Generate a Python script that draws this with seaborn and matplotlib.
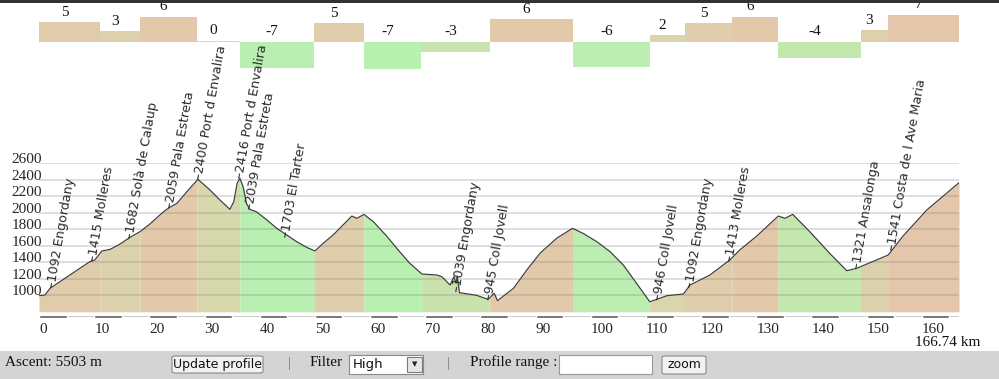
import numpy as np
import pandas as pd
import matplotlib
matplotlib.use("Agg")
import matplotlib.pyplot as plt
from matplotlib.patches import Rectangle, FancyBboxPatch
import seaborn as sns

# ---------------- data ----------------
profile_km = [0.0, 1.1, 2.0, 3.8, 5.6, 7.4, 9.2, 10.1, 11.4, 12.9, 14.7, 16.5, 18.3, 20.1,
              21.9, 22.8, 23.7, 25.0, 26.8, 28.8, 31.0, 32.8, 34.6, 35.3, 35.9, 36.4, 37.0,
              37.6, 38.2, 39.4, 41.3, 43.1, 44.9, 46.7, 48.5, 50.0, 51.5, 53.3, 55.1, 56.7,
              57.6, 58.9, 60.6, 63.0, 65.1, 67.2, 69.4, 72.1, 73.0, 74.5, 75.2, 75.6, 75.8,
              76.2, 79.3, 81.4, 82.5, 83.1, 86.0, 88.4, 90.8, 93.8, 96.7, 98.6, 101.1, 103.5,
              105.9, 108.3, 110.7, 112.5, 113.8, 116.8, 118.0, 121.6, 125.2, 127.0, 130.1,
              134.0, 135.2, 136.6, 139.7, 143.3, 146.4, 148.2, 150.6, 153.9, 156.6, 160.9,
              166.6, 166.74]
profile_elev = [995, 1004, 1085, 1165, 1246, 1327, 1407, 1428, 1537, 1557, 1622, 1703, 1771, 1864,
                1973, 2025, 2067, 2115, 2256, 2406, 2276, 2155, 2042, 2135, 2357, 2418, 2316,
                2115, 2042, 2013, 1913, 1812, 1731, 1650, 1582, 1537, 1630, 1731, 1852, 1961,
                1933, 1981, 1892, 1719, 1549, 1388, 1258, 1246, 1226, 1125, 1226, 1145, 1234,
                1032, 1000, 951, 1024, 935, 1085, 1306, 1509, 1691, 1812, 1751, 1650, 1529,
                1367, 1145, 922, 964, 995, 1016, 1125, 1246, 1428, 1549, 1719,
                1961, 1933, 1981, 1771, 1509, 1298, 1327, 1395, 1488, 1719, 2034,
                2357, 2365]

segment_edges_km = [0, 11.1, 18.3, 28.6, 36.4, 49.9, 58.9, 69.3, 81.7, 96.7, 110.7, 117.0,
                    125.6, 133.9, 148.9, 153.8, 166.74]
segment_grades = [5.0, 2.7, 6.4, 0.3, -6.8, 4.7, -7.1, -2.7, 5.8, -6.4, 1.7, 4.7, 6.45, -4.1,
                  3.0, 6.9]
segment_labels = ["5", "3", "6", "0", "-7", "5", "-7", "-3", "6", "-6", "2", "5", "6", "-4",
                  "3", "7"]

waypoint_km = [2.3, 9.7, 16.5, 23.6, 28.9, 36.3, 38.2, 44.7, 75.7, 81.4, 112.2, 118.0, 125.2,
               148.1, 154.5]
waypoint_elev = [1092, 1415, 1682, 2059, 2400, 2416, 2039, 1703, 1039, 945, 946, 1092, 1413,
                 1321, 1541]
waypoint_names = ["Engordany", "Molleres", "Solà de Calaup", "Pala Estreta", "Port d Envalira",
                  "Port d Envalira", "Pala Estreta", "El Tarter", "Engordany", "Coll Jovell",
                  "Coll Jovell", "Engordany", "Molleres", "Ansalonga", "Costa de l Ave Maria"]

ytick_values = [1000, 1200, 1400, 1600, 1800, 2000, 2200, 2400, 2600]
xtick_values = [0, 10, 20, 30, 40, 50, 60, 70, 80, 90, 100, 110, 120, 130, 140, 150, 160]
total_km = 166.74
ascent_m = 5503
filter_value = "High"

# ---------------- style helpers ----------------
W, H = 999, 379


def grade_color(g):
    anchors = [-7, 0, 7]
    r = np.interp(g, anchors, [184, 214, 228])
    gg = np.interp(g, anchors, [240, 218, 198])
    b = np.interp(g, anchors, [176, 172, 170])
    return (r / 255, gg / 255, b / 255)


def fig_rect(fig, x, y, w, h, **kw):
    r = Rectangle((x / W, 1 - (y + h) / H), w / W, h / H, transform=fig.transFigure, **kw)
    fig.add_artist(r)
    return r


def fig_box(fig, x, y, w, h, **kw):
    b = FancyBboxPatch((x / W, 1 - (y + h) / H), w / W, h / H,
                       boxstyle="round,pad=0,rounding_size=0.004",
                       transform=fig.transFigure, **kw)
    fig.add_artist(b)
    return b


def fig_text(fig, x, y, s, **kw):
    return fig.text(x / W, 1 - y / H, s, **kw)


sns.set_theme(style="white")
plt.rcParams['font.family'] = ['DejaVu Sans']

fig = plt.figure(figsize=(W / 100, H / 100), dpi=100)
fig.patch.set_facecolor("white")

ax_left, ax_right = 39, 959

# ---------------- top gradient bars ----------------
top_h = 75
ax_top = fig.add_axes([ax_left / W, 1 - top_h / H, (ax_right - ax_left) / W, top_h / H])
lefts = segment_edges_km[:-1]
widths = [b - a for a, b in zip(segment_edges_km[:-1], segment_edges_km[1:])]
colors = [grade_color(g) for g in segment_grades]
ax_top.bar(lefts, segment_grades, width=widths, align="edge", color=colors, linewidth=0)
for a, w, g, lab in zip(lefts, widths, segment_grades, segment_labels):
    ax_top.annotate(lab, (a + w / 2, max(g, 0)), xytext=(-3.5, 2.5), textcoords="offset points",
                    ha="center", va="bottom", fontsize=11, family="Liberation Serif",
                    color="#111111", annotation_clip=False)
ax_top.set_xlim(0, total_km)
px_per_unit = 3.9
ax_top.set_ylim(-(top_h - 41.7) / px_per_unit, 41.7 / px_per_unit)
ax_top.axis("off")

# ---------------- main profile ----------------
y_top_px, y_bot_px = 163.3, 318.4
ax = fig.add_axes([ax_left / W, 1 - y_bot_px / H, (ax_right - ax_left) / W,
                   (y_bot_px - y_top_px) / H])
ax.patch.set_alpha(0)
ylo, yhi = 720, 2600
ax.set_xlim(0, total_km)
ax.set_ylim(ylo, yhi)

km = np.array(profile_km)
el = np.array(profile_elev)
for a, b, g in zip(segment_edges_km[:-1], segment_edges_km[1:], segment_grades):
    inner = [k for k in profile_km if a < k < b]
    xs = np.array([a] + inner + [b])
    ys = np.interp(xs, km, el)
    ax.fill_between(xs, 800, ys, color=grade_color(g), linewidth=0, zorder=1)

ax.set_yticks(ytick_values)
ax.set_xticks(xtick_values)
ax.grid(axis="y", color="#808080", alpha=0.3, linewidth=1.2, zorder=2)
ax.grid(axis="x", visible=False)
ax.set_axisbelow(False)

df = pd.DataFrame({"km": profile_km, "elev": profile_elev})
sns.lineplot(data=df, x="km", y="elev", ax=ax, color="#3a3a3a", linewidth=0.85, zorder=3)
ax.set_xlabel("")
ax.set_ylabel("")

# distance bar
ax.broken_barh([(0, total_km)], (720, 46), facecolors="#b4b4b4", zorder=3)
ax.hlines(743, 0, total_km, color="white", linewidth=0.9, zorder=3)
ax.broken_barh([(k, 5) for k in xtick_values], (720, 46), facecolors="#5c5c5c", zorder=4)

for sp in ax.spines.values():
    sp.set_visible(False)
ax.tick_params(axis="y", length=0, pad=-2, labelsize=11)
ax.tick_params(axis="x", length=0, pad=3, labelsize=11)
for lab in ax.get_yticklabels():
    lab.set_family("Liberation Serif")
    lab.set_va("baseline")
for lab in ax.get_xticklabels():
    lab.set_family("Liberation Serif")
    lab.set_ha("left")

for k, e, name in zip(waypoint_km, waypoint_elev, waypoint_names):
    ax.text(k, e, f"\u2013{e} {name}", rotation=80, rotation_mode="anchor", ha="left",
            va="center", fontsize=9.2, color="#2a2a2a", clip_on=False, zorder=6)

fig_text(fig, 915, 343, f"{total_km} km", ha="left", va="center", fontsize=11,
         family="Liberation Serif", color="#111111")

# ---------------- dark strip at top ----------------
fig_rect(fig, 0, 0, W, 3, facecolor="#333333", edgecolor="none", zorder=10)

# ---------------- bottom toolbar ----------------
fig_rect(fig, 0, 351, W, 28, facecolor="#d4d4d4", edgecolor="none", zorder=5)
fig_text(fig, 5, 362, f"Ascent: {ascent_m} m", ha="left", va="center", fontsize=11,
         family="Liberation Serif", color="#111111", zorder=6)
fig_box(fig, 172, 356, 91, 17, facecolor="#f2f2f2", edgecolor="#8a8a8a", linewidth=0.8, zorder=6)
fig_text(fig, 217.5, 364.5, "Update profile", ha="center", va="center", fontsize=9,
         color="#111111", zorder=7)
fig_text(fig, 289, 363, "|", ha="center", va="center", fontsize=11,
         family="Liberation Serif", color="#777777", zorder=6)
fig_text(fig, 310, 362, "Filter", ha="left", va="center", fontsize=11,
         family="Liberation Serif", color="#111111", zorder=6)
fig_rect(fig, 349, 355, 74, 19, facecolor="white", edgecolor="#8a8a8a", linewidth=0.8, zorder=6)
fig_text(fig, 353, 364.5, filter_value, ha="left", va="center", fontsize=9.5,
         color="#111111", zorder=7)
fig_rect(fig, 407, 357, 15, 15, facecolor="#e6e6e6", edgecolor="#7a7a7a", linewidth=0.8, zorder=7)
fig_text(fig, 414.5, 364.5, "\u25BC", ha="center", va="center", fontsize=5,
         color="#222222", zorder=8)
fig_text(fig, 448, 363, "|", ha="center", va="center", fontsize=11,
         family="Liberation Serif", color="#777777", zorder=6)
fig_text(fig, 470, 362, "Profile range :", ha="left", va="center", fontsize=11,
         family="Liberation Serif", color="#111111", zorder=6)
fig_rect(fig, 559, 355, 93, 19, facecolor="white", edgecolor="#9a9a9a", linewidth=0.8, zorder=6)
fig_box(fig, 662, 356, 44, 18, facecolor="#f2f2f2", edgecolor="#8a8a8a", linewidth=0.8, zorder=6)
fig_text(fig, 684, 365, "zoom", ha="center", va="center", fontsize=9,
         color="#111111", zorder=7)

fig.savefig("out.png", dpi=100)
